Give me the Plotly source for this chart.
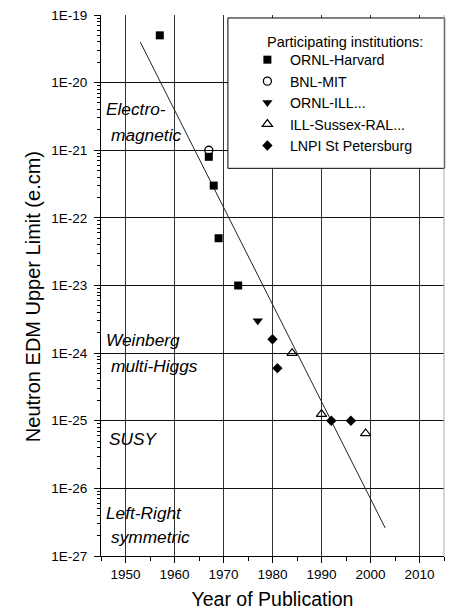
import plotly.graph_objects as go

# ---- data ----
orn_harv_year = [1957, 1967, 1968, 1969, 1973]
orn_harv_val = [5e-20, 8e-22, 3e-22, 5e-23, 1e-23]

bnl_mit_year = [1967]
bnl_mit_val = [1e-21]

orn_ill_year = [1977]
orn_ill_val = [3e-24]

ill_sussex_year = [1984, 1990, 1999]
ill_sussex_val = [1e-24, 1.25e-25, 6.5e-26]

lnpi_year = [1980, 1981, 1992, 1996]
lnpi_val = [1.6e-24, 6e-25, 1e-25, 1e-25]

fit_year = [1953, 2003]
fit_val = [4e-20, 2.6e-27]

x_ticks = [1950, 1960, 1970, 1980, 1990, 2000, 2010]
x_minor_ticks = [1945, 1955, 1965, 1975, 1985, 1995, 2005, 2015]
y_tick_vals = [1e-27, 1e-26, 1e-25, 1e-24, 1e-23, 1e-22, 1e-21, 1e-20, 1e-19]
y_tick_text = ["1E-27", "1E-26", "1E-25", "1E-24", "1E-23", "1E-22", "1E-21", "1E-20", "1E-19"]
y_minor_ticks = [m * 10.0 ** e for e in range(-27, -19) for m in range(2, 10)]

region_labels = ["Electro-", "magnetic", "Weinberg", "multi-Higgs", "SUSY", "Left-Right", "symmetric"]
legend_title = "Participating institutions:"

FONT = "Liberation Sans, Arial, sans-serif"

fig = go.Figure()

fig.add_trace(go.Scatter(x=fit_year, y=fit_val, mode="lines",
                         line=dict(color="#222222", width=1), showlegend=False, hoverinfo="skip"))

fig.add_trace(go.Scatter(x=orn_harv_year, y=orn_harv_val, mode="markers", name="ORNL-Harvard",
                         marker=dict(symbol="square", size=8, color="black")))
fig.add_trace(go.Scatter(x=bnl_mit_year, y=bnl_mit_val, mode="markers", name="BNL-MIT",
                         marker=dict(symbol="circle-open", size=8, color="black", line=dict(width=1.3))))
fig.add_trace(go.Scatter(x=orn_ill_year, y=orn_ill_val, mode="markers", name="ORNL-ILL...",
                         marker=dict(symbol="triangle-down", size=9, color="black")))
fig.add_trace(go.Scatter(x=ill_sussex_year, y=ill_sussex_val, mode="markers", name="ILL-Sussex-RAL...",
                         marker=dict(symbol="triangle-up-open", size=9, color="black", line=dict(width=1.2))))
fig.add_trace(go.Scatter(x=lnpi_year, y=lnpi_val, mode="markers", name="LNPI St Petersburg",
                         marker=dict(symbol="diamond", size=8, color="black")))

# legend box
fig.add_shape(type="rect", xref="paper", yref="paper", x0=0.37, x1=1.002, y0=0.7166, y1=0.9945,
              line=dict(color="black", width=1), fillcolor="white", layer="above")
# right border
fig.add_shape(type="line", xref="paper", yref="paper", x0=1, x1=1, y0=0, y1=1,
              line=dict(color="#aaaaaa", width=1))

annotations = []
annotations.append(dict(text=legend_title, xref="paper", yref="paper", x=0.4777, y=0.9505,
                        xanchor="left", yanchor="middle", showarrow=False,
                        font=dict(family=FONT, size=14.5, color="black")))
# y-axis title
annotations.append(dict(text="Neutron EDM Upper Limit (e.cm)", xref="paper", yref="paper",
                        x=-0.198, y=0.4786, xanchor="center", yanchor="middle", textangle=-90,
                        showarrow=False, font=dict(family=FONT, size=20, color="black")))

label_pos = [(0.0087, 0.8263), (0.0233, 0.7786), (0.0087, 0.3989), (0.0233, 0.3521),
             (0.0175, 0.2154), (0.0087, 0.0786), (0.0233, 0.0355)]
for txt, (px, py) in zip(region_labels, label_pos):
    annotations.append(dict(text="<i>" + txt + "</i>", xref="paper", yref="paper", x=px, y=py,
                            xanchor="left", yanchor="middle", showarrow=False,
                            font=dict(family=FONT, size=17.3, color="black")))

fig.update_layout(
    width=452, height=616,
    margin=dict(l=101, r=8, t=13, b=60),
    paper_bgcolor="white", plot_bgcolor="white",
    font=dict(family=FONT, color="black"),
    showlegend=True,
    legend=dict(x=0.4195, y=0.9465, xanchor="left", yanchor="top",
                bgcolor="rgba(0,0,0,0)", borderwidth=0, itemwidth=35,
                font=dict(family=FONT, size=14.2, color="black")),
    annotations=annotations,
)

fig.update_xaxes(
    range=[1945, 2015], tickmode="array", tickvals=x_ticks, ticks="outside", ticklen=6,
    tickcolor="black",
    showline=True, linecolor="black", linewidth=1, showgrid=True, gridcolor="#333333", gridwidth=1,
    zeroline=False, tickfont=dict(family=FONT, size=13.5, color="black"),
    minor=dict(tickmode="array", tickvals=x_minor_ticks, ticks="outside", ticklen=4,
               tickcolor="black", showgrid=False),
    title=dict(text="Year of Publication", font=dict(family=FONT, size=19.5, color="black"), standoff=11),
)
fig.update_yaxes(
    type="log", range=[-27, -19], tickmode="array", tickvals=y_tick_vals, ticktext=y_tick_text,
    ticks="outside", ticklen=6, tickcolor="black",
    showline=True, linecolor="black", linewidth=1, showgrid=True, gridcolor="#111111", gridwidth=1,
    zeroline=False, tickfont=dict(family=FONT, size=13.5, color="black"),
    ticklabelstandoff=4,
    minor=dict(tickmode="array", tickvals=y_minor_ticks, ticks="outside", ticklen=3,
               tickcolor="black", showgrid=False),
)

fig.write_html("out.html")
